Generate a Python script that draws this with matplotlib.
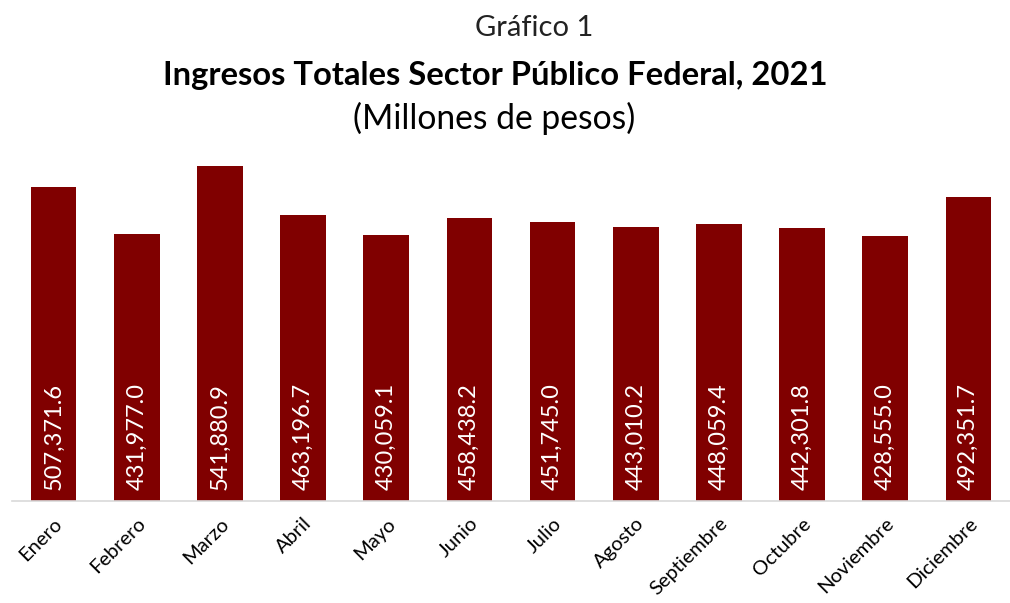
import matplotlib
matplotlib.use("Agg")
import matplotlib.pyplot as plt
import numpy as np

# data
meses = ["Enero", "Febrero", "Marzo", "Abril", "Mayo", "Junio", "Julio",
         "Agosto", "Septiembre", "Octubre", "Noviembre", "Diciembre"]
ingresos = [507371.6, 431977.0, 541880.9, 463196.7, 430059.1, 458438.2,
            451745.0, 443010.2, 448059.4, 442301.8, 428555.0, 492351.7]

color_barra = "#800000"

fig = plt.figure(figsize=(10.1, 6.03), dpi=100)
ax = fig.add_axes([12 / 1010, 102 / 603, 998 / 1010, 371 / 603])

x = np.arange(len(meses))
ax.bar(x, ingresos, width=0.55, color=color_barra)
ax.set_xlim(-0.5, len(meses) - 0.5)
ax.set_ylim(0, 600000)

# value labels inside the bars
for xi, val in zip(x, ingresos):
    ax.text(xi, 17000, f"{val:,.1f}", rotation=90, ha="center", va="bottom",
            color="white", fontsize=17, family="Lato")

# axis styling
for s in ["top", "right", "left"]:
    ax.spines[s].set_visible(False)
ax.spines["bottom"].set_color("#d9d9d9")
ax.spines["bottom"].set_linewidth(1.2)
ax.set_yticks([])
ax.set_xticks(x)
ax.set_xticklabels(meses, rotation=45, ha="right", rotation_mode="anchor",
                   fontsize=14.5, family="Lato")
ax.tick_params(axis="x", length=0, pad=10)

# titles
fig.text(534 / 1010, 1 - 28 / 603, "Gráfico 1", ha="center", va="center",
         fontsize=21, family="Lato", color="#222222")
fig.text(495 / 1010, 1 - 75 / 603, "Ingresos Totales Sector Público Federal, 2021",
         ha="center", va="center", fontsize=23.6, fontweight="bold",
         family="Lato")
fig.text(494 / 1010, 1 - 118 / 603, "(Millones de pesos)", ha="center",
         va="center", fontsize=24.2, family="Lato")

fig.savefig("out.png", dpi=100)
